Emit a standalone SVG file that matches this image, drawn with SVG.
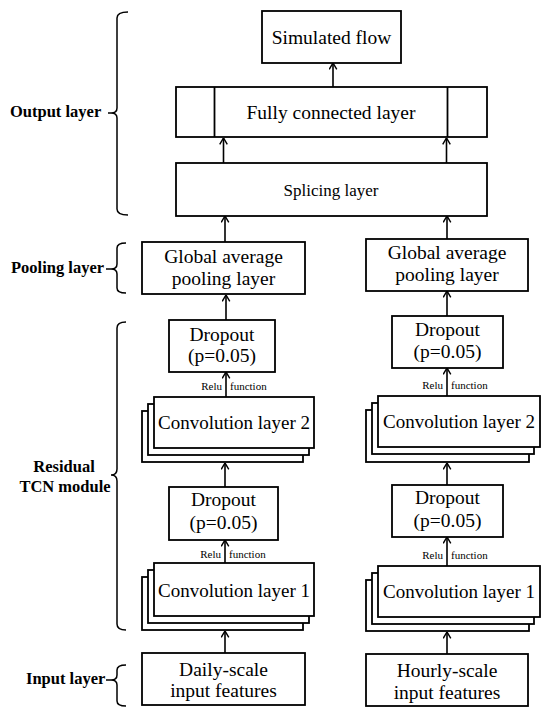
<svg xmlns="http://www.w3.org/2000/svg" width="550" height="719" viewBox="0 0 550 719">
<defs>
<style>
.b{fill:#fff;stroke:#000;stroke-width:1.8}
.t{fill:#000;text-anchor:middle}
.l{font-weight:bold;font-size:16.5px;fill:#000}
.s{font-size:11px;fill:#000}
.a{stroke:#000;stroke-width:1.6;fill:none;marker-end:url(#ah)}
.br{stroke:#000;stroke-width:1.5;fill:none}
</style>
<marker id="ah" viewBox="0 0 10 10" refX="9.5" refY="5" markerWidth="9" markerHeight="9" markerUnits="userSpaceOnUse" orient="auto">
<path d="M2.5,0.8 L9.5,5 L2.5,9.2" fill="none" stroke="#000" stroke-width="1.6"/>
</marker>
</defs>
<rect width="550" height="719" fill="#fff"/>
<g font-family="'Times New Roman', 'Liberation Serif', 'Noto Serif', 'DejaVu Serif', Times, serif">
<g id="labels">
<g id="lbl-output">
<path class="br" d="M128,12 Q117,12 117,18 V108 Q117,113 111,113 H108 M111,113 Q117,113 117,118 V209 Q117,215 128,215"/>
<text class="l" x="10" y="117">Output layer</text>
</g>
<g id="lbl-pooling">
<path class="br" d="M126,243 Q117,243 117,248 V264 Q117,269 111,269 H106 M111,269 Q117,269 117,274 V288 Q117,293 126,293"/>
<text class="l" x="11" y="273">Pooling layer</text>
</g>
<g id="lbl-residual">
<path class="br" d="M126,322 Q117,322 117,328 V469 Q117,475 111,475 M111,475 Q117,475 117,481 V624 Q117,630 126,630"/>
<text class="l" x="64" y="472" text-anchor="middle">Residual</text>
<text class="l" x="65" y="492" text-anchor="middle">TCN module</text>
</g>
<g id="lbl-input">
<path class="br" d="M126,665 Q117,665 117,670 V675 Q117,680 111,680 H106 M111,680 Q117,680 117,685 V701 Q117,706 126,706"/>
<text class="l" x="26" y="684">Input layer</text>
</g>
</g>

<g id="connectors">
<line class="a" x1="333" y1="87" x2="333" y2="63"/>
<line class="a" x1="223.5" y1="163" x2="223.5" y2="138"/>
<line class="a" x1="446.5" y1="163" x2="446.5" y2="138"/>
<line class="a" x1="225" y1="242" x2="225" y2="216"/>
<line class="a" x1="447" y1="239" x2="447" y2="216"/>
<line class="a" x1="226" y1="320" x2="226" y2="295"/>
<line class="a" x1="447" y1="316" x2="447" y2="291"/>
<line class="a" x1="226" y1="397" x2="226" y2="372"/>
<line class="a" x1="447" y1="396" x2="447" y2="368"/>
<line class="a" x1="225" y1="487" x2="225" y2="463"/>
<line class="a" x1="447" y1="485" x2="447" y2="463"/>
<line class="a" x1="225" y1="563" x2="225" y2="540"/>
<line class="a" x1="447" y1="566" x2="447" y2="537"/>
<line class="a" x1="225" y1="653" x2="225" y2="631"/>
<line class="a" x1="447" y1="654" x2="447" y2="632"/>
<text class="s" x="222" y="390" text-anchor="end">Relu</text>
<text class="s" x="230" y="390">function</text>
<text class="s" x="443" y="389" text-anchor="end">Relu</text>
<text class="s" x="451" y="389">function</text>
<text class="s" x="221" y="558" text-anchor="end">Relu</text>
<text class="s" x="229" y="558">function</text>
<text class="s" x="443" y="559" text-anchor="end">Relu</text>
<text class="s" x="451" y="559">function</text>
</g>

<g id="simulated-flow">
<rect class="b" x="262" y="11" width="139" height="52"/>
<text class="t" x="331.5" y="44" font-size="19.5">Simulated flow</text>
</g>

<g id="fully-connected">
<rect class="b" x="176" y="87" width="311" height="50"/>
<line x1="214.5" y1="87" x2="214.5" y2="137" stroke="#000" stroke-width="1.8"/>
<line x1="447.5" y1="87" x2="447.5" y2="137" stroke="#000" stroke-width="1.8"/>
<text class="t" x="331" y="119" font-size="19.5">Fully connected layer</text>
</g>

<g id="splicing">
<rect class="b" x="176" y="163" width="311" height="53"/>
<text class="t" x="331" y="196" font-size="17">Splicing layer</text>
</g>

<g id="pool-left">
<rect class="b" x="142" y="242" width="163" height="52"/>
<text class="t" x="223.5" y="263" font-size="19.5">Global average</text>
<text class="t" x="223.5" y="285" font-size="19.5">pooling layer</text>
</g>
<g id="pool-right">
<rect class="b" x="366" y="239" width="162" height="52"/>
<text class="t" x="447" y="259" font-size="19.5">Global average</text>
<text class="t" x="447" y="281" font-size="19.5">pooling layer</text>
</g>

<g id="dropout2-left">
<rect class="b" x="169" y="320" width="106" height="52"/>
<text class="t" x="222" y="341" font-size="19.5">Dropout</text>
<text class="t" x="222" y="362" font-size="19.5">(p=0.05)</text>
</g>
<g id="dropout2-right">
<rect class="b" x="392" y="316" width="111" height="52"/>
<text class="t" x="447.5" y="336" font-size="19.5">Dropout</text>
<text class="t" x="447.5" y="358" font-size="19.5">(p=0.05)</text>
</g>

<g id="conv2-left">
<rect class="b" x="142" y="411" width="161" height="51"/>
<rect class="b" x="148" y="404" width="161" height="51"/>
<rect class="b" x="154" y="397" width="160" height="51"/>
<text class="t" x="234" y="429" font-size="19">Convolution layer 2</text>
</g>
<g id="conv2-right">
<rect class="b" x="366" y="410" width="163" height="52"/>
<rect class="b" x="372" y="403" width="162" height="51"/>
<rect class="b" x="378" y="396" width="162" height="51"/>
<text class="t" x="459" y="428" font-size="19">Convolution layer 2</text>
</g>

<g id="dropout1-left">
<rect class="b" x="169" y="487" width="109" height="53"/>
<text class="t" x="223.5" y="506" font-size="19.5">Dropout</text>
<text class="t" x="223.5" y="529" font-size="19.5">(p=0.05)</text>
</g>
<g id="dropout1-right">
<rect class="b" x="392" y="485" width="111" height="52"/>
<text class="t" x="447.5" y="504" font-size="19.5">Dropout</text>
<text class="t" x="447.5" y="527" font-size="19.5">(p=0.05)</text>
</g>

<g id="conv1-left">
<rect class="b" x="142" y="577" width="161" height="53"/>
<rect class="b" x="148" y="570" width="161" height="53"/>
<rect class="b" x="154" y="563" width="160" height="53"/>
<text class="t" x="234" y="597" font-size="19">Convolution layer 1</text>
</g>
<g id="conv1-right">
<rect class="b" x="366" y="580" width="163" height="51"/>
<rect class="b" x="372" y="573" width="162" height="51"/>
<rect class="b" x="378" y="566" width="162" height="51"/>
<text class="t" x="459" y="598" font-size="19">Convolution layer 1</text>
</g>

<g id="input-left">
<rect class="b" x="142" y="653" width="163" height="52"/>
<text class="t" x="223.5" y="676" font-size="19.5">Daily-scale</text>
<text class="t" x="223.5" y="697" font-size="19.5">input features</text>
</g>
<g id="input-right">
<rect class="b" x="366" y="654" width="162" height="52"/>
<text class="t" x="447" y="677" font-size="19.5">Hourly-scale</text>
<text class="t" x="447" y="699" font-size="19.5">input features</text>
</g>
</g>
</svg>
